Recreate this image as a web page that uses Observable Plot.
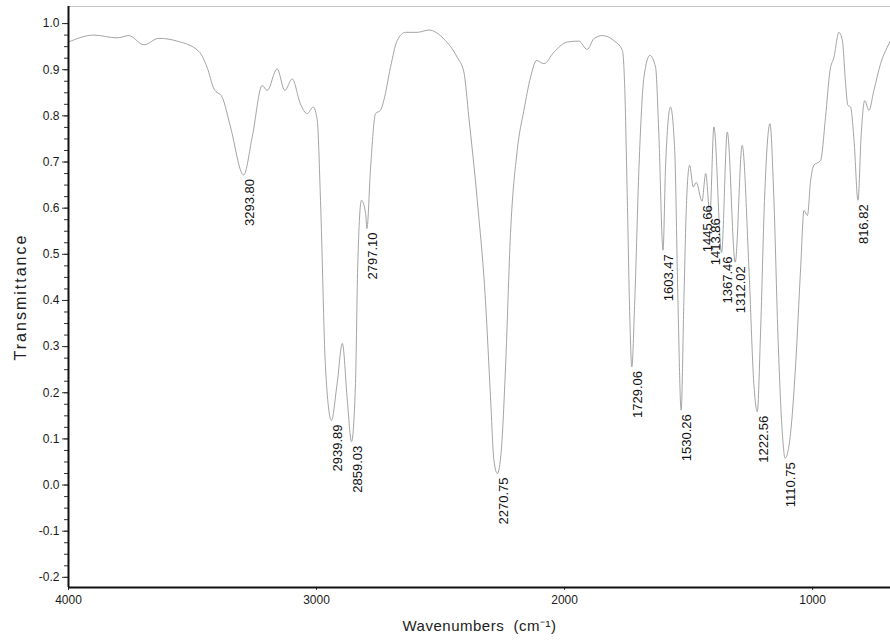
<!DOCTYPE html>
<html>
<head>
<meta charset="utf-8">
<script src="https://cdn.jsdelivr.net/npm/d3@7"></script>
<script src="https://cdn.jsdelivr.net/npm/@observablehq/plot@0.6"></script>
<style>
  html, body { margin: 0; padding: 0; background: #ffffff; }
  #chart svg { display: block; }
</style>
</head>
<body>
<div id="chart"></div>
<script>
// Spectrum trace (wavenumber, cm^-1)
const wavenumbers = [4000, 3898, 3804, 3757, 3696, 3636, 3562, 3475, 3441, 3414, 3380, 3347, 3294, 3259, 3219, 3199, 3159, 3128, 3098, 3065, 3038, 3013, 2997, 2984, 2964, 2940, 2917, 2896, 2876, 2859, 2843, 2834, 2819, 2802, 2797, 2782, 2762, 2742, 2729, 2702, 2675, 2641, 2594, 2547, 2487, 2433, 2406, 2386, 2352, 2319, 2298, 2285, 2271, 2255, 2238, 2218, 2191, 2164, 2137, 2113, 2083, 2043, 1989, 1942, 1909, 1882, 1848, 1801, 1767, 1758, 1747, 1737, 1729, 1717, 1700, 1680, 1656, 1633, 1620, 1603, 1593, 1573, 1556, 1543, 1530, 1519, 1508, 1496, 1481, 1469, 1446, 1431, 1414, 1398, 1367, 1344, 1312, 1284, 1257, 1237, 1223, 1210, 1194, 1172, 1156, 1140, 1122, 1111, 1089, 1069, 1048, 1035, 1021, 1008, 995, 968, 948, 930, 914, 894, 880, 867, 858, 847, 833, 817, 804, 790, 773, 753, 726, 699, 686];
// Transmittance values
const transmittance = [0.960, 0.975, 0.969, 0.974, 0.954, 0.968, 0.962, 0.940, 0.905, 0.859, 0.840, 0.776, 0.672, 0.755, 0.866, 0.855, 0.902, 0.855, 0.880, 0.826, 0.805, 0.819, 0.790, 0.617, 0.256, 0.140, 0.220, 0.307, 0.184, 0.094, 0.220, 0.473, 0.617, 0.588, 0.556, 0.689, 0.805, 0.812, 0.833, 0.905, 0.963, 0.981, 0.981, 0.986, 0.967, 0.927, 0.895, 0.797, 0.617, 0.400, 0.184, 0.054, 0.025, 0.076, 0.256, 0.545, 0.725, 0.812, 0.884, 0.920, 0.913, 0.938, 0.960, 0.962, 0.944, 0.967, 0.974, 0.963, 0.942, 0.870, 0.617, 0.364, 0.256, 0.400, 0.689, 0.884, 0.931, 0.905, 0.761, 0.509, 0.689, 0.819, 0.725, 0.400, 0.162, 0.400, 0.617, 0.693, 0.646, 0.656, 0.615, 0.675, 0.587, 0.776, 0.504, 0.765, 0.483, 0.736, 0.473, 0.220, 0.159, 0.329, 0.617, 0.783, 0.617, 0.328, 0.112, 0.058, 0.112, 0.256, 0.473, 0.595, 0.584, 0.660, 0.693, 0.703, 0.797, 0.898, 0.927, 0.981, 0.963, 0.870, 0.823, 0.819, 0.747, 0.617, 0.761, 0.833, 0.812, 0.855, 0.913, 0.949, 0.963];

// Peak labels
const peakLabels = ["3293.80", "2939.89", "2859.03", "2797.10", "2270.75", "1729.06", "1603.47", "1530.26", "1445.66", "1413.86", "1367.46", "1312.02", "1222.56", "1110.75", "816.82"];
const peakT = [0.672, 0.140, 0.094, 0.556, 0.025, 0.256, 0.509, 0.162, 0.615, 0.587, 0.504, 0.483, 0.159, 0.058, 0.617];

// Axes
const xDomain = [4000, 686];
const yDomain = [-0.222, 1.037];
const xTicks = [4000, 3000, 2000, 1000];
const yTicks = [-0.2, -0.1, 0.0, 0.1, 0.2, 0.3, 0.4, 0.5, 0.6, 0.7, 0.8, 0.9, 1.0];
const yMinorStep = 0.025;
const xTitle = "Wavenumbers\u00a0 (cm\u207B\u00B9)";
const yTitle = "Transmittance";

const spectrum = wavenumbers.map((w, i) => ({ w, t: transmittance[i] }));
const peaks = peakLabels.map((s, i) => ({ w: +s, t: peakT[i], label: s }));
const yMinor = d3.range(-0.2, 1.0 + 1e-9, yMinorStep);
const fmt = d => (Math.abs(d) < 1e-9 ? 0 : d).toFixed(1);

const chart = Plot.plot({
  width: 890,
  height: 643,
  marginLeft: 68,
  marginRight: 0,
  marginTop: 6,
  marginBottom: 56,
  style: { fontFamily: "Arial, 'Liberation Sans', sans-serif", background: "#ffffff", color: "#1a1a1a" },
  x: { domain: xDomain },
  y: { domain: yDomain },
  marks: [
    Plot.ruleY([yDomain[1]], { stroke: "#c4c4c4", strokeWidth: 1 }),
    Plot.axisY(yMinor, { tickSize: 4, tickFormat: () => "", label: null, stroke: "#333" }),
    Plot.axisY(yTicks, { tickSize: 6, tickPadding: 3, tickFormat: fmt, label: null, fontSize: 12, stroke: "#333" }),
    Plot.axisX(xTicks, { tickSize: 3, tickPadding: 5, tickFormat: d => String(d), label: null, fontSize: 12, stroke: "#333" }),
    Plot.line(spectrum, { x: "w", y: "t", curve: "monotone-x", stroke: "#9a9a9a", strokeWidth: 0.9 }),
    Plot.text(peaks, { x: "w", y: "t", text: "label", rotate: -90, textAnchor: "end", dx: 6, dy: 4, fontSize: 13, fill: "#111" }),
    Plot.ruleX([xDomain[0]], { stroke: "#111", strokeWidth: 2 }),
    Plot.ruleY([yDomain[0]], { stroke: "#111", strokeWidth: 2 }),
    Plot.text([yTitle], { frameAnchor: "left", textAnchor: "middle", rotate: -90, dx: -48, fontSize: 16, fill: "#222" }),
    Plot.text([xTitle], { frameAnchor: "bottom", textAnchor: "middle", dy: 43, fontSize: 15, fill: "#222" })
  ]
});
d3.select(chart).selectAll("text")
  .filter(function () { return this.textContent === yTitle; })
  .style("letter-spacing", "2px");
d3.select(chart).selectAll("text")
  .filter(function () { return this.textContent === xTitle; })
  .style("letter-spacing", "0.5px");
document.getElementById("chart").appendChild(chart);
</script>
</body>
</html>
